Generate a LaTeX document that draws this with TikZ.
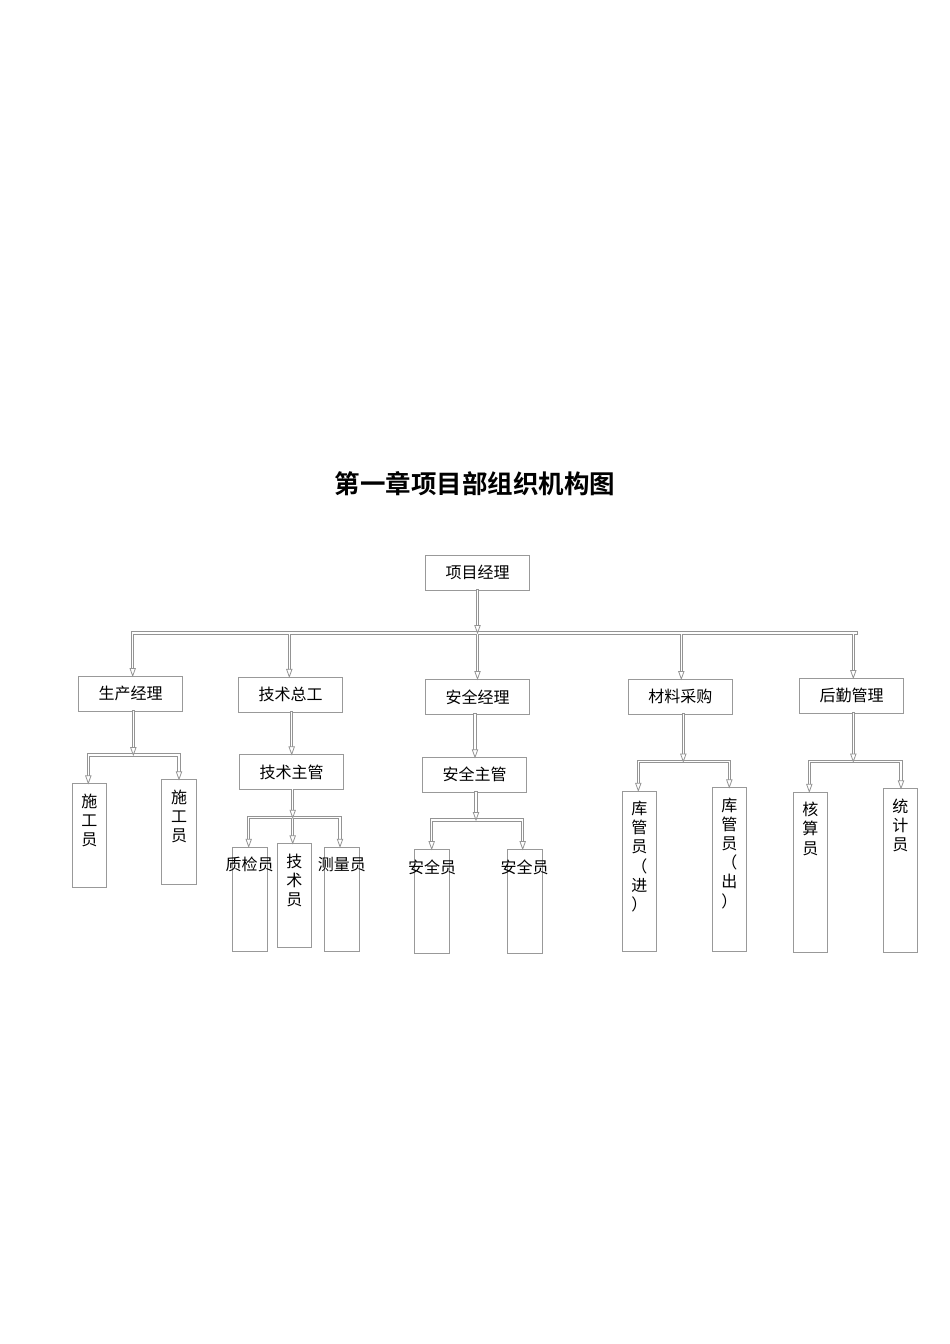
\documentclass[tikz,border=0pt]{standalone}
\usepackage{fontspec}
\setmainfont{Noto Sans CJK SC}[BoldFont={Noto Sans CJK SC Bold}]
\usetikzlibrary{calc}
\newcommand\mkvbox[3]{\parbox[t][#1][t]{#2}{\centering\vspace*{10pt}#3}}
\tikzset{
  box/.style={draw=black!40, line width=0.8pt, minimum width=104pt, minimum height=35pt, inner sep=0pt, font=\fontsize{16}{19}\selectfont},
  vbox/.style={draw=black!40, line width=0.8pt, inner sep=0pt, anchor=north west, font=\fontsize{16}{19.2}\selectfont},
  shaft/.style={draw=black!42, line width=0.85pt, double=white, double distance=1.5pt, line cap=rect},
  tipdown/.pic={\draw[black!42, line width=0.8pt, fill=white, line join=miter] (-2.7,-7.5) -- (0,0) -- (2.7,-7.5) -- cycle;}
}
\begin{document}
\begin{tikzpicture}[x=1pt,y=-1pt]
\useasboundingbox (0,0) rectangle (950,1344);

\node[font=\fontsize{25.5}{30}\selectfont\bfseries] (title) at (475,484) {第一章项目部组织机构图};

% level 1 and 2
\node[box] (pm) at (477.5,572.5) {项目经理};
\node[box] (sc) at (130.5,693.8) {生产经理};
\node[box] (js) at (290.5,694.7) {技术总工};
\node[box] (aq) at (477.5,696.8) {安全经理};
\node[box] (cg) at (680.3,696.8) {材料采购};
\node[box] (hq) at (851.7,695.8) {后勤管理};
\node[box] (jz) at (291.7,772.2) {技术主管};
\node[box] (az) at (474.7,774.8) {安全主管};

% leaf boxes
\node[vbox] (sg1) at (71.7,783.3) {\mkvbox{103.7pt}{34.6pt}{施\\工\\员}};
\node[vbox] (sg2) at (161.3,779.3) {\mkvbox{104.7pt}{34.6pt}{施\\工\\员}};
\node[vbox] (zj) at (231.7,846.7) {\mkvbox{104.3pt}{35pt}{\makebox[\linewidth][c]{质检员}}};
\node[vbox] (jy) at (276.7,843.3) {\mkvbox{104pt}{34.6pt}{技\\术\\员}};
\node[vbox] (cl) at (324,846.7) {\mkvbox{104.3pt}{34.7pt}{\makebox[\linewidth][c]{测量员}}};
\node[vbox] (aq1) at (414.3,849) {\mkvbox{104.3pt}{35pt}{\makebox[\linewidth][c]{安全员}}};
\node[vbox] (aq2) at (506.7,849) {\mkvbox{104.3pt}{35pt}{\makebox[\linewidth][c]{安全员}}};
\node[vbox] (kg1) at (621.7,790.7) {\mkvbox{160pt}{34.6pt}{库\\管\\员\\（\\进\\）}};
\node[vbox] (kg2) at (711.7,787.3) {\mkvbox{163.4pt}{34.6pt}{库\\管\\员\\（\\出\\）}};
\node[vbox] (hs) at (792.7,791.7) {\mkvbox{160pt}{34.6pt}{核\\算\\员}};
\node[vbox] (tj) at (882.7,788.3) {\mkvbox{163.4pt}{34.6pt}{统\\计\\员}};

% bus coordinates
\coordinate (b1L) at (132.7,633);
\coordinate (b1b) at (289.3,633);
\coordinate (b1M) at (477.5,633);
\coordinate (b1d) at (681.3,633);
\coordinate (b1e) at (853.3,633);
\coordinate (b1R) at (856,633);

\coordinate (b2M) at (133.3,755);
\coordinate (b2L) at (88.3,755);
\coordinate (b2R) at (179,755);

\coordinate (b3M) at (292.7,817.7);
\coordinate (b3L) at (248.7,817.7);
\coordinate (b3R) at (340,817.7);

\coordinate (b4M) at (476,820);
\coordinate (b4L) at (431.7,820);
\coordinate (b4R) at (522.7,820);

\coordinate (b5M) at (683.3,761.5);
\coordinate (b5L) at (638.3,761.5);
\coordinate (b5R) at (729.3,761.5);

\coordinate (b6M) at (853.3,761.5);
\coordinate (b6L) at (809.3,761.5);
\coordinate (b6R) at (901,761.5);

% project manager to main bus
\draw[shaft] (pm.south) -- ($(b1M)+(0,-7)$);
\draw[shaft] ($(b1L |- sc.north)+(0,-7)$) -- (b1L) -- (b1R)
  (b1b) -- ($(b1b |- js.north)+(0,-7)$)
  (b1M) -- ($(b1M |- aq.north)+(0,-7)$)
  (b1d) -- ($(b1d |- cg.north)+(0,-7)$)
  (b1e) -- ($(b1e |- hq.north)+(0,-7)$);
\pic at (b1M) {tipdown};
\pic at (b1L |- sc.north) {tipdown};
\pic at (b1b |- js.north) {tipdown};
\pic at (b1M |- aq.north) {tipdown};
\pic at (b1d |- cg.north) {tipdown};
\pic at (b1e |- hq.north) {tipdown};

% production manager
\draw[shaft] (b2M |- sc.south) -- ($(b2M)+(0,-7)$);
\draw[shaft] ($(b2L |- sg1.north)+(0,-7)$) -- (b2L) -- (b2R) -- ($(b2R |- sg2.north)+(0,-7)$);
\pic at (b2M) {tipdown};
\pic at (b2L |- sg1.north) {tipdown};
\pic at (b2R |- sg2.north) {tipdown};

% technical chief
\draw[shaft] (291.7,712.3) -- ($(291.7,754.3)+(0,-7)$);
\pic at (291.7,754.3) {tipdown};
\draw[shaft] (b3M |- jz.south) -- ($(b3M)+(0,-7)$);
\draw[shaft] ($(b3L |- zj.north)+(0,-7)$) -- (b3L) -- (b3R) -- ($(b3R |- cl.north)+(0,-7)$)
  (b3M) -- ($(b3M |- jy.north)+(0,-7)$);
\pic at (b3M) {tipdown};
\pic at (b3L |- zj.north) {tipdown};
\pic at (b3M |- jy.north) {tipdown};
\pic at (b3R |- cl.north) {tipdown};

% safety manager
\draw[shaft] (475,714.3) -- ($(475,757.3)+(0,-7)$);
\pic at (475,757.3) {tipdown};
\draw[shaft] (b4M |- az.south) -- ($(b4M)+(0,-7)$);
\draw[shaft] ($(b4L |- aq1.north)+(0,-7)$) -- (b4L) -- (b4R) -- ($(b4R |- aq2.north)+(0,-7)$);
\pic at (b4M) {tipdown};
\pic at (b4L |- aq1.north) {tipdown};
\pic at (b4R |- aq2.north) {tipdown};

% purchasing
\draw[shaft] (b5M |- cg.south) -- ($(b5M)+(0,-7)$);
\draw[shaft] ($(b5L |- kg1.north)+(0,-7)$) -- (b5L) -- (b5R) -- ($(b5R |- kg2.north)+(0,-7)$);
\pic at (b5M) {tipdown};
\pic at (b5L |- kg1.north) {tipdown};
\pic at (b5R |- kg2.north) {tipdown};

% logistics
\draw[shaft] (b6M |- hq.south) -- ($(b6M)+(0,-7)$);
\draw[shaft] ($(b6L |- hs.north)+(0,-7)$) -- (b6L) -- (b6R) -- ($(b6R |- tj.north)+(0,-7)$);
\pic at (b6M) {tipdown};
\pic at (b6L |- hs.north) {tipdown};
\pic at (b6R |- tj.north) {tipdown};
\end{tikzpicture}
\end{document}
